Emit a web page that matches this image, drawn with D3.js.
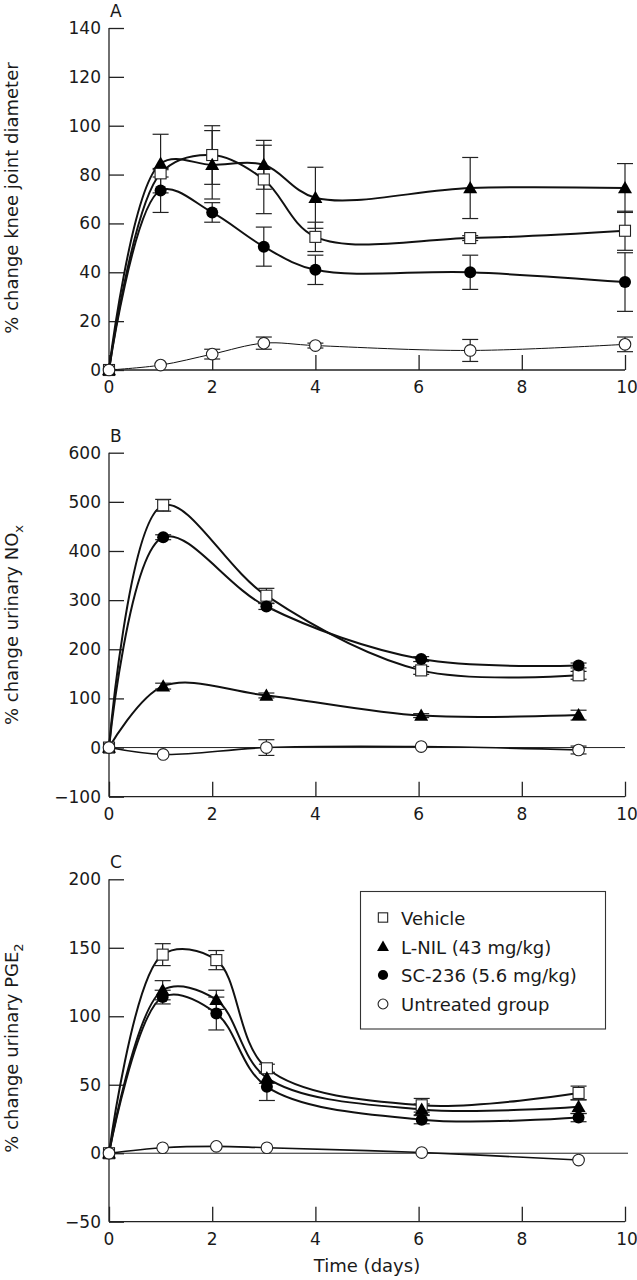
<!DOCTYPE html>
<html>
<head>
<meta charset="utf-8">
<script src="https://cdn.jsdelivr.net/npm/d3@7"></script>
<style>
  html, body { margin: 0; padding: 0; background: #fff; }
  svg text { font-family: "DejaVu Sans", sans-serif; fill: #1a1a1a; }
</style>
</head>
<body>
<script>
// ---------- DATA ----------
const seriesNames = ["Vehicle", "L-NIL (43 mg/kg)", "SC-236 (5.6 mg/kg)", "Untreated group"];

// Panel A: % change knee joint diameter
const daysA = [0, 1, 2, 3, 4, 7, 10];
const kneeVehicle      = [0, 80.5, 88, 78, 54.5, 54, 57];
const kneeVehicleErr   = [0, 1.5, 12, 14, 6, 1, 8];
const kneeLnil         = [0, 84.5, 84, 84, 70.5, 74.5, 74.5];
const kneeLnilErr      = [0, 12, 14, 10, 12.5, 12.5, 10];
const kneeSC           = [0, 73.5, 64.5, 50.5, 41, 40, 36];
const kneeSCErr        = [0, 9, 4, 8, 6, 7, 12];
const kneeUntreated    = [0, 2, 6.5, 11, 10, 8, 10.5];
const kneeUntreatedErr = [0, 0, 2, 2.5, 1, 4.5, 3];
const ticksA = [0, 20, 40, 60, 80, 100, 120, 140];

// Panel B: % change urinary NOx
const daysB = [0, 1.05, 3.05, 6.05, 9.1];
const noxVehicle      = [0, 493, 309, 157, 147];
const noxVehicleErr   = [0, 12, 15, 8, 8];
const noxLnil         = [0, 125, 106, 65, 66];
const noxLnilErr      = [0, 6, 5, 4, 10];
const noxSC           = [0, 428, 287, 180, 167];
const noxSCErr        = [0, 5, 6, 5, 5];
const noxUntreated    = [0, -14, 0, 2, -5];
const noxUntreatedErr = [0, 0, 16, 0, 8];
const ticksB = [-100, 0, 100, 200, 300, 400, 500, 600];

// Panel C: % change urinary PGE2
const daysC = [0, 1.04, 2.08, 3.06, 6.06, 9.1];
const pgeVehicle      = [0, 145, 141, 62, 35, 44];
const pgeVehicleErr   = [0, 8, 7, 3, 5, 5];
const pgeLnil         = [0, 119, 112, 55, 32, 34];
const pgeLnilErr      = [0, 7, 7, 4, 4, 5];
const pgeSC           = [0, 114, 102, 48.5, 24.5, 26];
const pgeSCErr        = [0, 5, 12, 10, 3, 3];
const pgeUntreated    = [0, 4, 5, 4, 0.5, -5];
const pgeUntreatedErr = [0, 0, 0, 0, 0, 0];
const ticksC = [-50, 0, 50, 100, 150, 200];

const xTicks = [0, 2, 4, 6, 8, 10];

// ---------- LAYOUT ----------
const W = 637, H = 1280;
const svg = d3.select("body").append("svg").attr("width", W).attr("height", H);

const markerTypes = ["square", "triangle", "circle", "ocircle"];
const TICK_FS = 17, LABEL_FS = 18;

function panel(cfg) {
  const x = d3.scaleLinear().domain([0, 10]).range([109, 625]);
  const y = d3.scaleLinear().domain(cfg.domain).range([cfg.bottom, cfg.top]);
  const g = svg.append("g");
  const axisColor = "#222";

  // y axis line
  g.append("line").attr("x1", 109).attr("x2", 109).attr("y1", y(cfg.domain[1])).attr("y2", y(cfg.domain[0]))
    .attr("stroke", axisColor).attr("stroke-width", 1.3);
  // x axis line
  g.append("line").attr("x1", 109).attr("x2", 625).attr("y1", y(cfg.domain[0])).attr("y2", y(cfg.domain[0]))
    .attr("stroke", axisColor).attr("stroke-width", 1.3);

  // y ticks (inward)
  const yAxis = d3.axisRight(y).tickValues(cfg.yTicks).tickSize(15).tickFormat("");
  const ya = g.append("g").attr("transform", "translate(109,0)").call(yAxis);
  ya.select(".domain").remove();
  ya.selectAll("line").attr("stroke", axisColor).attr("stroke-width", 1.3);
  g.selectAll(".ylab").data(cfg.yTicks).enter().append("text")
    .attr("x", 101).attr("y", d => y(d) + 6).attr("text-anchor", "end")
    .attr("font-size", TICK_FS).text(d => d < 0 ? "\u2212" + Math.abs(d) : d);

  // x ticks (inward)
  const xAxis = d3.axisTop(x).tickValues(xTicks).tickSize(15).tickFormat("");
  const xa = g.append("g").attr("transform", `translate(0,${y(cfg.domain[0])})`).call(xAxis);
  xa.select(".domain").remove();
  xa.selectAll("line").attr("stroke", axisColor).attr("stroke-width", 1.3);
  g.selectAll(".xlab").data(xTicks).enter().append("text")
    .attr("x", d => x(d) + (d === 10 ? 2 : 0)).attr("y", y(cfg.domain[0]) + 23).attr("text-anchor", "middle")
    .attr("font-size", TICK_FS).text(d => d);

  // panel letter
  g.append("text").attr("x", 110).attr("y", cfg.top - 11).attr("font-size", TICK_FS).text(cfg.letter);

  // y label
  const lab = g.append("text").attr("transform", `translate(18,${cfg.labelY}) rotate(-90)`)
    .attr("text-anchor", "middle").attr("font-size", LABEL_FS);
  lab.append("tspan").text(cfg.label);
  if (cfg.sub) lab.append("tspan").attr("dy", 5).attr("font-size", 13).text(cfg.sub);

  // zero line
  if (cfg.zeroLine) {
    g.append("line").attr("x1", 109).attr("x2", cfg.zeroEnd).attr("y1", y(0)).attr("y2", y(0))
      .attr("stroke", "#222").attr("stroke-width", 1);
  }

  const line = d3.line().x(d => x(d.t)).y(d => y(d.v)).curve(d3.curveCatmullRom.alpha(0.5));

  const series = cfg.series.map((s, i) => ({
    type: markerTypes[i],
    width: s.width,
    pts: cfg.days.map((t, j) => ({ t, v: s.vals[j], e: s.err[j] }))
  }));

  // lines
  series.forEach(s => {
    g.append("path").datum(s.pts).attr("d", line).attr("fill", "none")
      .attr("stroke", "#111").attr("stroke-width", s.width);
  });
  // error bars
  series.forEach(s => {
    s.pts.filter(p => p.e > 0).forEach(p => {
      const cx = x(p.t);
      g.append("line").attr("x1", cx).attr("x2", cx).attr("y1", y(p.v - p.e)).attr("y2", y(p.v + p.e))
        .attr("stroke", "#222").attr("stroke-width", 1.2);
      [p.v - p.e, p.v + p.e].forEach(v => {
        g.append("line").attr("x1", cx - 8).attr("x2", cx + 8).attr("y1", y(v)).attr("y2", y(v))
          .attr("stroke", "#222").attr("stroke-width", 1.2);
      });
    });
  });
  // markers
  series.forEach(s => {
    s.pts.forEach(p => drawMarker(g, s.type, x(p.t), y(p.v), 1));
  });
}

function drawMarker(g, type, cx, cy, scale) {
  if (type === "square") {
    const h = 5.5 * scale;
    g.append("rect").attr("x", cx - h).attr("y", cy - h).attr("width", 2 * h).attr("height", 2 * h)
      .attr("fill", "#fff").attr("stroke", "#222").attr("stroke-width", 1.1);
  } else if (type === "triangle") {
    const s = 7 * scale;
    g.append("path").attr("d", `M${cx},${cy - s}L${cx + s},${cy + s * 0.75}L${cx - s},${cy + s * 0.75}Z`)
      .attr("fill", "#000");
  } else if (type === "circle") {
    g.append("circle").attr("cx", cx).attr("cy", cy).attr("r", 6 * scale).attr("fill", "#000");
  } else {
    g.append("circle").attr("cx", cx).attr("cy", cy).attr("r", 5.8 * scale)
      .attr("fill", "#fff").attr("stroke", "#222").attr("stroke-width", 1.1);
  }
}

panel({
  letter: "A", domain: [0, 140], top: 28, bottom: 370, yTicks: ticksA,
  label: "% change knee joint diameter", labelY: 198, days: daysA, zeroLine: false,
  series: [
    { vals: kneeVehicle, err: kneeVehicleErr, width: 2 },
    { vals: kneeLnil, err: kneeLnilErr, width: 2 },
    { vals: kneeSC, err: kneeSCErr, width: 2 },
    { vals: kneeUntreated, err: kneeUntreatedErr, width: 1 }
  ]
});

panel({
  letter: "B", domain: [-100, 600], top: 452.7, bottom: 796.7, yTicks: ticksB,
  label: "% change urinary NO", sub: "x", labelY: 625, days: daysB, zeroLine: true, zeroEnd: 625,
  series: [
    { vals: noxVehicle, err: noxVehicleErr, width: 2 },
    { vals: noxLnil, err: noxLnilErr, width: 2 },
    { vals: noxSC, err: noxSCErr, width: 2 },
    { vals: noxUntreated, err: noxUntreatedErr, width: 1.6 }
  ]
});

panel({
  letter: "C", domain: [-50, 200], top: 879.3, bottom: 1221.7, yTicks: ticksC,
  label: "% change urinary PGE", sub: "2", labelY: 1048, days: daysC, zeroLine: true, zeroEnd: 628,
  series: [
    { vals: pgeVehicle, err: pgeVehicleErr, width: 2 },
    { vals: pgeLnil, err: pgeLnilErr, width: 2 },
    { vals: pgeSC, err: pgeSCErr, width: 2 },
    { vals: pgeUntreated, err: pgeUntreatedErr, width: 1.6 }
  ]
});

// x axis title
svg.append("text").attr("x", 367).attr("y", 1272).attr("text-anchor", "middle")
  .attr("font-size", LABEL_FS).text("Time (days)");

// legend
const lg = svg.append("g");
lg.append("rect").attr("x", 360.5).attr("y", 891.5).attr("width", 245).attr("height", 137.5)
  .attr("fill", "#fff").attr("stroke", "#333").attr("stroke-width", 1.1);
const legendRows = [917.5, 946.5, 975, 1004];
seriesNames.forEach((name, i) => {
  drawMarker(lg, markerTypes[i], 383, legendRows[i], 0.85);
  lg.append("text").attr("x", 401).attr("y", legendRows[i] + 7).attr("font-size", LABEL_FS).text(name);
});
</script>
</body>
</html>
